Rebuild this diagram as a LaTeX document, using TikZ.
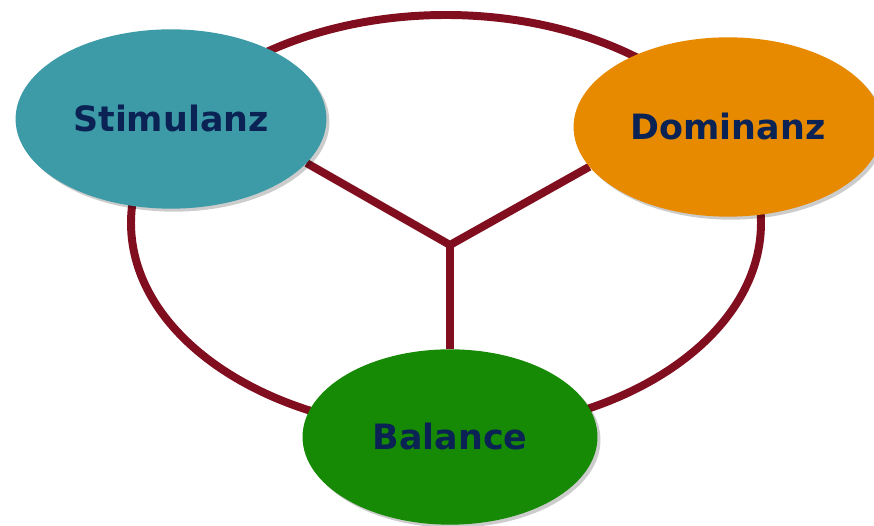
\documentclass[tikz,border=0pt]{standalone}
\usepackage{fontspec}
\setmainfont{DejaVu Sans}
\usepackage{tikz}
\usetikzlibrary{backgrounds,shadows,shapes.geometric}
\definecolor{linkred}{RGB}{128,14,30}
\definecolor{stimcol}{RGB}{61,155,168}
\definecolor{domcol}{RGB}{232,138,0}
\definecolor{balcol}{RGB}{22,138,4}
\definecolor{textblue}{RGB}{10,35,84}
\tikzset{
  pole/.style={ellipse,inner sep=0pt,text=textblue,
               font=\bfseries\fontsize{35}{40}\selectfont,
               drop shadow={shadow xshift=3,shadow yshift=-3,
                            fill=black,opacity=0.2}},
  link/.style={draw=linkred,line width=8},
}

\begin{document}
\begin{tikzpicture}[x=1bp,y=1bp]
  \useasboundingbox (0,0) rectangle (874,526);

  % --- drei Pole ----------------------------------------------------------
  \node[pole,fill=stimcol,minimum width=312,minimum height=180] (stim) at (171,407) {Stimulanz};
  \node[pole,fill=domcol,minimum width=310,minimum height=180]  (dom)  at (728,399) {Dominanz};
  \node[pole,fill=balcol,minimum width=296,minimum height=176]  (bal)  at (450,89)  {Balance};

  % --- Ring und Verzweigung -----------------------------------------------
  \coordinate (ring) at (446,303);
  \coordinate (hub)  at (450,281);
  \begin{scope}[on background layer]
    \draw[link] (ring) ellipse [x radius=315,y radius=208];
    \draw[link] (stim.-18) -- (hub) -- (dom.196);
    \draw[link] (hub) -- (bal.north);
  \end{scope}

\end{tikzpicture}
\end{document}
